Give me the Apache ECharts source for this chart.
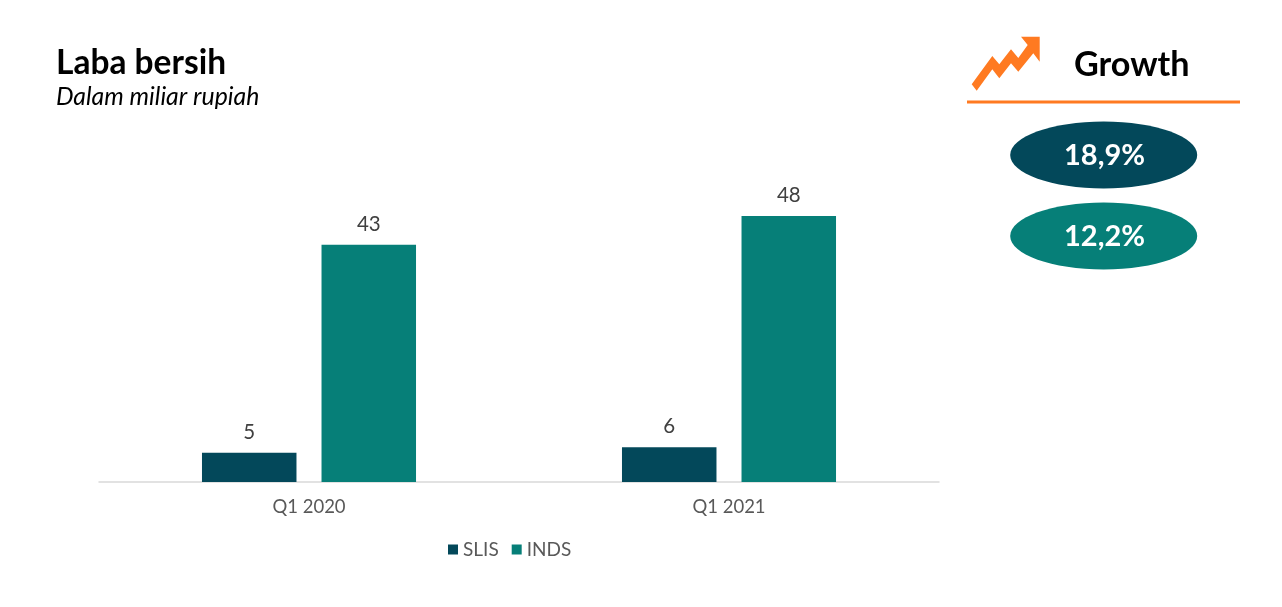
<!DOCTYPE html>
<html>
<head>
<meta charset="utf-8">
<title>Laba bersih</title>
<style>
  html, body { margin: 0; padding: 0; background: #fff; }
  #main { width: 1282px; height: 607px; }
</style>
<script src="https://cdn.jsdelivr.net/npm/echarts@6/dist/echarts.min.js"></script>
</head>
<body>
<div id="main"></div>
<script>
var categories = ["Q1 2020", "Q1 2021"];
var slis = [5.3, 6.3];
var inds = [43, 48.2];
var growthLabels = ["18,9%", "12,2%"];

var colorSlis = "#03485A";
var colorInds = "#067F78";
var colorOrange = "#FF7A21";
var font = "Lato, Carlito, 'Open Sans', sans-serif";

// panah growth di kanan atas
var arrowPoints = [
  [971.7, 84.3], [992.3, 56], [999.3, 64.3], [1011, 49.3], [1018.3, 58], [1027.7, 45],
  [1021, 36.7], [1039.7, 36.7], [1039.7, 61.7], [1033.3, 53.3], [1018.3, 71.7], [1011, 63.3],
  [999.3, 78.3], [992.3, 69.3], [976.7, 90.7]
];

var barLabel = {
  show: true,
  position: "top",
  distance: 10,
  color: "#404040",
  fontFamily: font,
  fontSize: 20.5,
  formatter: function (p) {
    return Math.round(p.value);
  }
};

var myChart = echarts.init(document.getElementById("main"));
myChart.setOption({
  animation: false,
  textStyle: { fontFamily: font },
  grid: { left: 99, width: 840, top: 151, height: 331 },
  legend: {
    left: 443,
    top: 535,
    itemWidth: 10,
    itemHeight: 10,
    itemGap: 13,
    icon: "rect",
    textStyle: { color: "#595959", fontSize: 19, fontFamily: font, padding: [0, 0, 0, 0] },
    data: ["SLIS", "INDS"]
  },
  xAxis: {
    type: "category",
    data: categories,
    axisLine: { lineStyle: { color: "#D9D9D9", width: 1.5 } },
    axisTick: { show: false },
    axisLabel: { color: "#595959", fontSize: 18.5, fontFamily: font, margin: 16 }
  },
  yAxis: { type: "value", min: 0, max: 60, show: false },
  series: [
    {
      name: "SLIS",
      type: "bar",
      data: slis,
      barWidth: 94.5,
      barGap: "26.5%",
      itemStyle: { color: colorSlis },
      label: barLabel
    },
    {
      name: "INDS",
      type: "bar",
      data: inds,
      barWidth: 94.5,
      itemStyle: { color: colorInds },
      label: barLabel
    }
  ],
  graphic: [
    { type: "text", left: 56, top: 46, style: { text: "Laba bersih", fontFamily: font, fontSize: 33.5, fontWeight: 700, fill: "#000" } },
    { type: "text", left: 56, top: 85, style: { text: "Dalam miliar rupiah", fontFamily: font, fontSize: 24.8, fontStyle: "italic", fill: "#000" } },
    { type: "polygon", shape: { points: arrowPoints }, style: { fill: colorOrange } },
    { type: "text", left: 1074, top: 48, style: { text: "Growth", fontFamily: font, fontSize: 34.2, fontWeight: 700, fill: "#000" } },
    { type: "line", shape: { x1: 967, y1: 102, x2: 1240, y2: 102 }, style: { stroke: colorOrange, lineWidth: 3 } },
    { type: "ellipse", shape: { cx: 1103.7, cy: 155, rx: 93.5, ry: 33.5 }, style: { fill: colorSlis } },
    { type: "text", x: 1104.5, y: 156, style: { text: growthLabels[0], align: "center", verticalAlign: "middle", fontFamily: font, fontSize: 29, fontWeight: 700, fill: "#fff" } },
    { type: "ellipse", shape: { cx: 1103.7, cy: 236, rx: 93.5, ry: 33.5 }, style: { fill: colorInds } },
    { type: "text", x: 1104.5, y: 237, style: { text: growthLabels[1], align: "center", verticalAlign: "middle", fontFamily: font, fontSize: 29, fontWeight: 700, fill: "#fff" } }
  ]
});
</script>
</body>
</html>
